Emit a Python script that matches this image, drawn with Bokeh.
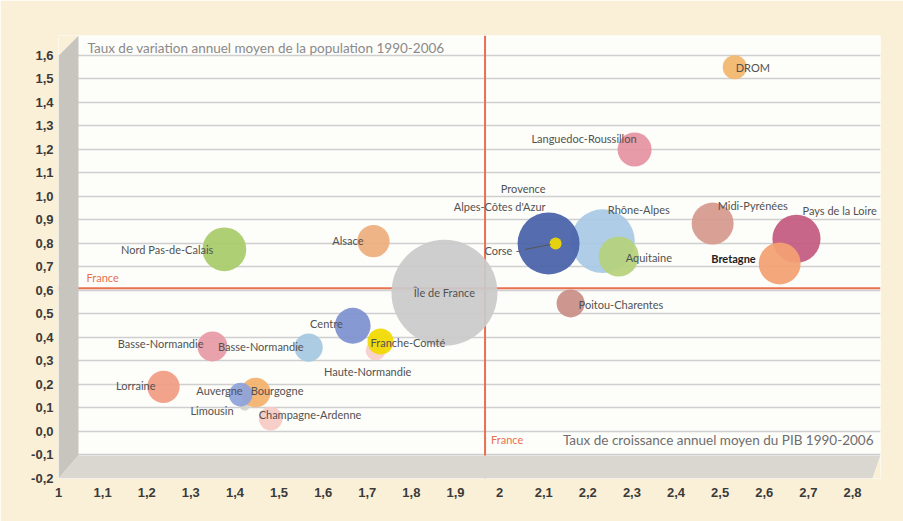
import math
from bokeh.plotting import figure
from bokeh.models import Range1d, FixedTicker, Span, ColumnDataSource, Label, CustomJSTickFormatter
from bokeh.core.properties import value
from bokeh.embed import file_html
from bokeh.resources import INLINE

# ---------------- data ----------------
regions = ["Île de France", "Rhône-Alpes", "Provence-Alpes-Côte d'Azur", "Corse",
           "Aquitaine", "Poitou-Charentes", "Languedoc-Roussillon", "DROM",
           "Midi-Pyrénées", "Pays de la Loire", "Bretagne", "Nord Pas-de-Calais",
           "Alsace", "Centre", "Haute-Normandie", "Franche-Comté", "Basse-Normandie",
           "Basse-Normandie (2)", "Lorraine", "Limousin", "Bourgogne", "Auvergne",
           "Champagne-Ardenne"]
etiquettes = ["Île de France", "Rhône-Alpes", "Provence\nAlpes-Côtes d'Azur", "Corse –",
              "Aquitaine", "Poitou-Charentes", "Languedoc-Roussillon", "DROM",
              "Midi-Pyrénées", "Pays de la Loire", "Bretagne", "Nord Pas-de-Calais",
              "Alsace", "Centre", "Haute-Normandie", "Franche-Comté", "Basse-Normandie",
              "Basse-Normandie", "Lorraine", "Limousin", "Bourgogne", "Auvergne",
              "Champagne-Ardenne"]
# taux de croissance annuel moyen du PIB 1990-2006
pib = [1.875, 2.234, 2.111, 2.127, 2.270, 2.161, 2.306, 2.533, 2.483, 2.673, 2.635,
       1.376, 1.714, 1.667, 1.719, 1.730, 1.567, 1.349, 1.238, 1.422, 1.447, 1.413, 1.481]
# taux de variation annuel moyen de la population 1990-2006
pop = [0.59, 0.81, 0.80, 0.80, 0.745, 0.545, 1.20, 1.55, 0.885, 0.82, 0.715,
       0.775, 0.81, 0.45, 0.345, 0.383, 0.357, 0.362, 0.19, 0.11, 0.166, 0.157, 0.055]
# poids relatif (taille des bulles)
poids = [28.1, 10.2, 9.6, 0.36, 4.0, 1.96, 2.9, 1.44, 4.4, 5.8, 4.4,
         4.8, 2.6, 3.2, 1.0, 1.7, 2.0, 2.25, 2.6, 0.25, 2.2, 1.4, 1.4]
couleurs = ["#cacaca", "#a9c9e4", "#4862a8", "#f0d800", "#b6d27c", "#c98f86", "#e592a0",
            "#f2b76c", "#d69a8e", "#c45a80", "#f4a072", "#a9cb6b", "#eeae7c", "#7d91d0",
            "#f7d0ca", "#f1d900", "#a6c8e2", "#e79aa6", "#f09c82", "#d4d2cc", "#f3b26c",
            "#8ea2da", "#f7cbc4"]

x_ticks = [1.0, 1.1, 1.2, 1.3, 1.4, 1.5, 1.6, 1.7, 1.8, 1.9, 2.0, 2.1, 2.2, 2.3, 2.4,
           2.5, 2.6, 2.7, 2.8]
x_tick_labels = ["1", "1,1", "1,2", "1,3", "1,4", "1,5", "1,6", "1,7", "1,8", "1,9", "2",
                 "2,1", "2,2", "2,3", "2,4", "2,5", "2,6", "2,7", "2,8"]
y_ticks = [-0.2, -0.1, 0.0, 0.1, 0.2, 0.3, 0.4, 0.5, 0.6, 0.7, 0.8, 0.9, 1.0, 1.1, 1.2,
           1.3, 1.4, 1.5, 1.6]
y_tick_labels = ["-0,2", "-0,1", "0,0", "0,1", "0,2", "0,3", "0,4", "0,5", "0,6", "0,7",
                 "0,8", "0,9", "1,0", "1,1", "1,2", "1,3", "1,4", "1,5", "1,6"]

france_pib = 1.967
france_pop = 0.61

titre_y = "Taux de variation annuel moyen de la population 1990-2006"
titre_x = "Taux de croissance annuel moyen du PIB 1990-2006"

# ---------------- layout / style ----------------
W, H = 903, 521
BL, BR, BT, BB = 58, 23, 35, 43
X0, X1 = 1.0, 2.8635
Y0, Y1 = -0.2, 1.685
FW, FH = W - BL - BR, H - BT - BB
ux = (X1 - X0) / FW
uy = (Y1 - Y0) / FH

# label placement: offset in px (right, down) and alignment
lab_dx = [0, 5, -3, -34, 7, 8, 2, 1, 5, 6, -24, -11, -10, -10, -8, -10, -5, -9, -8, -11, -5, 2, -12]
lab_dy = [0, -32, -46, 7, 1, 1, -11, 0, -18, -28, -5, 0, -1, -2, 21, 1, -1, -3, -1, 5, -2, -4, -4]
lab_al = ["center", "left", "right", "right", "left", "left", "right", "left", "left", "left",
          "right", "right", "right", "right", "center", "left", "right", "right", "right",
          "right", "left", "right", "left"]

BG = "#faf0d8"
LAB_FONT = "Lato"

p = figure(width=W, height=H, x_range=Range1d(X0, X1), y_range=Range1d(Y0, Y1),
           output_backend="svg", toolbar_location=None,
           min_border_left=BL, min_border_right=BR, min_border_top=BT, min_border_bottom=BB)
p.border_fill_color = BG
p.background_fill_color = "#fdfdfa"
p.outline_line_color = None

fmt_code = """
let b = 0;
for (let i = 0; i < t.length; i++) { if (Math.abs(t[i] - tick) < Math.abs(t[b] - tick)) b = i; }
return l[b];
"""
p.xaxis.ticker = FixedTicker(ticks=x_ticks)
p.xaxis.formatter = CustomJSTickFormatter(args=dict(t=x_ticks, l=x_tick_labels), code=fmt_code)
p.yaxis.ticker = FixedTicker(ticks=y_ticks)
p.yaxis.formatter = CustomJSTickFormatter(args=dict(t=y_ticks, l=y_tick_labels), code=fmt_code)
for ax in (p.xaxis, p.yaxis):
    ax.axis_line_color = None
    ax.major_tick_line_color = None
    ax.minor_tick_line_color = None
    ax.major_tick_in = 0
    ax.major_tick_out = 0
    ax.major_label_text_font = "Liberation Sans"
    ax.major_label_text_font_style = "bold"
    ax.major_label_text_font_size = "13px"
    ax.major_label_text_color = "#3a3a3a"
p.xaxis.major_label_standoff = 9
p.yaxis.major_label_standoff = 5

p.xgrid.grid_line_color = None
p.ygrid.ticker = FixedTicker(ticks=y_ticks)
p.ygrid.grid_line_color = "#cfcfcf"
p.ygrid.grid_line_width = 1.5

# France reference lines
red = "#e8714f"
p.add_layout(Span(location=france_pib, dimension="height", line_color=red, line_width=2, level="underlay"))
p.add_layout(Span(location=france_pop, dimension="width", line_color=red, line_width=2, level="underlay"))

# 3D wall and floor
wall_w, floor_h = 20 * ux, 23 * uy
p.patch([X0, X0, X0 + wall_w, X0 + wall_w], [Y0, Y1 - 20 * uy, Y1, Y0 + floor_h],
        fill_color="#c8c5bf", line_color=None)
p.patch([X0, X0 + wall_w, X1, X1 - 8 * ux], [Y0, Y0 + floor_h, Y0 + floor_h, Y0],
        fill_color="#dad7d1", line_color=None)
p.patch([X0, X0 + wall_w, X0], [Y1, Y1, Y1 - 20 * uy], fill_color=BG, line_color=None)
p.patch([X1 - 8 * ux, X1, X1], [Y0, Y0 + floor_h, Y0], fill_color=BG, line_color=None)

# bubbles
src = ColumnDataSource(dict(x=pib, y=pop, size=[20 * math.sqrt(w) for w in poids],
                            color=couleurs, region=regions))
p.scatter("x", "y", size="size", source=src, marker="circle", fill_color="color",
          fill_alpha=0.93, line_color=None)

# Corse leader line
ic = regions.index("Corse")
p.segment(x0=[pib[ic] - 31 * ux], y0=[pop[ic] - 6 * uy], x1=[pib[ic] - 5 * ux], y1=[pop[ic] - 1 * uy],
          line_color="#555555", line_width=1)

# region labels
for al in ("left", "right", "center"):
    idx = [i for i in range(len(regions)) if lab_al[i] == al and regions[i] != "Bretagne"]
    s = ColumnDataSource(dict(
        x=[pib[i] + lab_dx[i] * ux for i in idx],
        y=[pop[i] - lab_dy[i] * uy for i in idx],
        t=[etiquettes[i] for i in idx]))
    p.text("x", "y", text="t", source=s, text_font=value(LAB_FONT), text_font_size="11px",
           text_color="#525252", text_align=al, text_baseline="middle", text_line_height=1.35)

ib = regions.index("Bretagne")
p.text(x=[pib[ib] + lab_dx[ib] * ux], y=[pop[ib] - lab_dy[ib] * uy], text=[etiquettes[ib]],
       text_font=value(LAB_FONT), text_font_size="11px", text_font_style="bold",
       text_color="#222222", text_align="right", text_baseline="middle")

# titles
p.add_layout(Label(x=X0 + 29 * ux, y=Y1 - 12 * uy, text=titre_y, text_font=LAB_FONT,
                   text_font_size="13.5px", text_color="#8a8a8a", text_baseline="middle"))
p.add_layout(Label(x=X1 - 7 * ux, y=Y0 + 39 * uy, text=titre_x, text_font=LAB_FONT,
                   text_font_size="13.5px", text_color="#6e6e6e", text_baseline="middle",
                   text_align="right"))
p.add_layout(Label(x=france_pib + 6 * ux, y=Y0 + 39 * uy, text="France", text_font=LAB_FONT,
                   text_font_size="11px", text_color=red, text_baseline="middle"))
p.add_layout(Label(x=X0 + 28 * ux, y=france_pop + 11 * uy, text="France", text_font=LAB_FONT,
                   text_font_size="11px", text_color=red, text_baseline="middle"))

open("out.html", "w").write(file_html(p, INLINE))
